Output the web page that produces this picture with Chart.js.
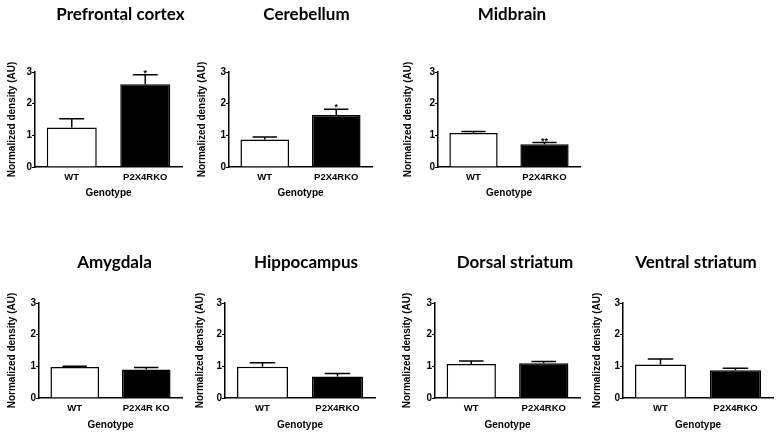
<!DOCTYPE html>
<html>
<head>
<meta charset="utf-8">
<script src="https://cdn.jsdelivr.net/npm/chart.js@4.4.1/dist/chart.umd.min.js"></script>
<style>
html, body { margin: 0; padding: 0; background: #fff; overflow: hidden; }
body { width: 781px; height: 439px; position: relative; }
canvas { position: absolute; }
</style>
</head>
<body>
<canvas id="c0"></canvas>
<canvas id="c1"></canvas>
<canvas id="c2"></canvas>
<canvas id="c3"></canvas>
<canvas id="c4"></canvas>
<canvas id="c5"></canvas>
<canvas id="c6"></canvas>
<script>
// one panel per brain region
var regions = ['Prefrontal cortex', 'Cerebellum', 'Midbrain', 'Amygdala', 'Hippocampus', 'Dorsal striatum', 'Ventral striatum'];
var genotypes = [
    ['WT', 'P2X4RKO'], ['WT', 'P2X4RKO'], ['WT', 'P2X4RKO'],
    ['WT', 'P2X4R KO'], ['WT', 'P2X4RKO'], ['WT', 'P2X4RKO'], ['WT', 'P2X4RKO']
];
var wtMean = [1.25, 0.87, 1.07, 0.98, 0.99, 1.07, 1.06];
var wtSem  = [0.27, 0.08, 0.05, 0.02, 0.12, 0.10, 0.17];
var koMean = [2.61, 1.64, 0.72, 0.90, 0.68, 1.10, 0.88];
var koSem  = [0.30, 0.18, 0.05, 0.06, 0.09, 0.05, 0.06];
var stars  = ['*', '*', '**', '', '', '', ''];
var yTicks = [0, 1, 2, 3];

// placement: canvas left, top, width, height, y-axis width, x-axis height, right spacer width
var boxes = [
    [6,   0,   229, 199, 29, 32, 53],
    [196, 0,   221, 199, 33, 32, 45],
    [402, 0,   220, 199, 36, 32, 42],
    [6,   220, 217, 211, 33, 33, 41],
    [194, 220, 224, 211, 31, 33, 43],
    [401, 220, 228, 211, 34, 33, 49],
    [591, 220, 210, 211, 32, 33, 28]
];

Chart.defaults.font.family = '"Liberation Sans", Arial, sans-serif';
Chart.defaults.color = '#000';

// SEM whiskers (upward only) and significance stars
var errorBars = {
    id: 'errorBars',
    afterDatasetsDraw: function(chart) {
        var ds = chart.data.datasets[0];
        var meta = chart.getDatasetMeta(0);
        var y = chart.scales.y;
        var ctx = chart.ctx;
        ctx.save();
        ctx.strokeStyle = '#000';
        ctx.lineWidth = 1.5;
        meta.data.forEach(function(bar, i) {
            var top = y.getPixelForValue(ds.data[i] + ds.sem[i]);
            var half = bar.width / 4;
            ctx.beginPath();
            ctx.moveTo(bar.x, bar.y);
            ctx.lineTo(bar.x, top);
            ctx.moveTo(bar.x - half, top);
            ctx.lineTo(bar.x + half, top);
            ctx.stroke();
            if (i === 1 && ds.star) {
                ctx.font = 'bold 9px "Liberation Sans", Arial, sans-serif';
                ctx.textAlign = 'center';
                ctx.textBaseline = 'alphabetic';
                ctx.fillStyle = '#000';
                ctx.fillText(ds.star, bar.x, top + 1);
            }
        });
        ctx.restore();
    }
};

for (var i = 0; i < regions.length; i++) {
    var b = boxes[i];
    var cv = document.getElementById('c' + i);
    cv.width = b[2];
    cv.height = b[3];
    cv.style.left = b[0] + 'px';
    cv.style.top = b[1] + 'px';
    var topRow = b[1] === 0;

    (function(yw, xh, rw) {
        new Chart(cv.getContext('2d'), {
            type: 'bar',
            data: {
                labels: genotypes[i],
                datasets: [{
                    data: [wtMean[i], koMean[i]],
                    sem: [wtSem[i], koSem[i]],
                    star: stars[i],
                    backgroundColor: ['#FFFFFF', '#000000'],
                    borderColor: '#000000',
                    borderWidth: 1.5,
                    barPercentage: 0.68,
                    categoryPercentage: 1
                }]
            },
            options: {
                responsive: false,
                animation: false,
                layout: { padding: 0 },
                plugins: {
                    legend: { display: false },
                    tooltip: { enabled: false },
                    title: {
                        display: true,
                        text: regions[i],
                        color: '#000',
                        font: { family: 'Lato', size: 17, weight: 'bold' },
                        padding: topRow ? { top: 4, bottom: 47.6 } : { top: 32.8, bottom: 29.8 }
                    }
                },
                scales: {
                    x: {
                        grid: { display: false },
                        border: { display: true, color: '#000', width: 1.5 },
                        ticks: { font: { size: 9.5, weight: 'bold' }, padding: -3 },
                        title: {
                            display: true,
                            text: 'Genotype',
                            font: { size: 10, weight: 'bold' },
                            padding: { top: 0, bottom: 0 }
                        },
                        afterFit: function(s) { s.height = xh; }
                    },
                    y: {
                        min: 0,
                        max: 3,
                        afterBuildTicks: function(s) {
                            s.ticks = yTicks.map(function(v) { return { value: v }; });
                        },
                        grid: { display: true, drawOnChartArea: false, tickLength: 3, color: '#000', lineWidth: 1 },
                        border: { display: true, color: '#000', width: 1.5 },
                        ticks: { font: { size: 10, weight: 'bold' }, padding: 0 },
                        title: {
                            display: true,
                            text: 'Normalized density (AU)',
                            font: { size: 10, weight: 'bold' },
                            padding: { top: 0, bottom: 0 }
                        },
                        afterFit: function(s) { s.width = yw; }
                    },
                    // empty right-hand strip so the title can sit off-centre of the plot
                    spacer: {
                        type: 'linear',
                        position: 'right',
                        grid: { display: false },
                        border: { display: false },
                        ticks: { display: false },
                        afterFit: function(s) { s.width = rw; }
                    }
                }
            },
            plugins: [errorBars]
        });
    })(b[4], b[5], b[6]);
}
</script>
</body>
</html>
